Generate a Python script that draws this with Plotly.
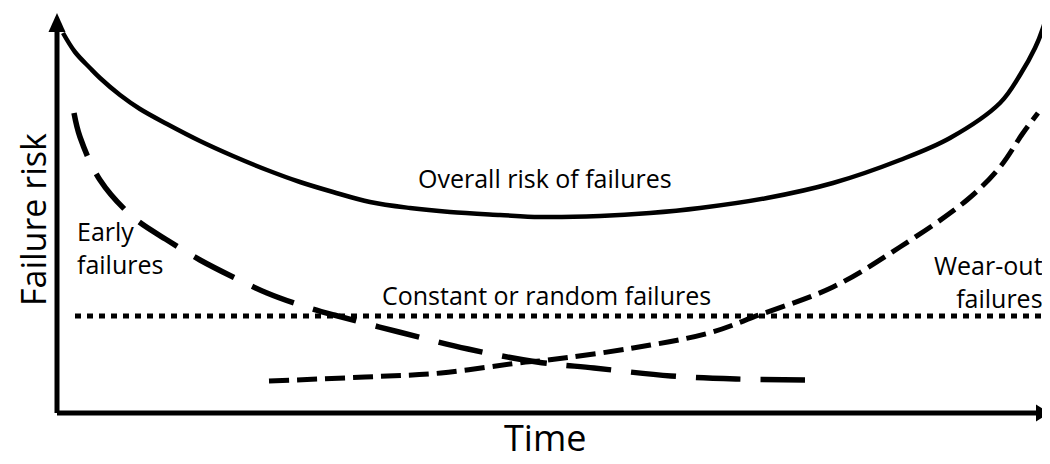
import plotly.graph_objects as go

# Time units = arbitrary, risk units = arbitrary (both)
overall_t = [6, 18, 33, 43, 63, 83, 110, 143, 176, 210, 243, 276, 313, 353, 393, 443, 483,
             543, 593, 643, 710, 776, 843, 893, 943, 963, 978, 986, 991]
overall_r = [380, 361, 345, 335, 318, 304, 289, 272, 257, 243, 231, 221, 211, 205, 201, 198, 196,
             197, 200, 205, 215, 230, 253, 275, 310, 338, 365, 385, 403]

early_t = [17, 23, 43, 76, 110, 143, 176, 210, 243, 277, 342, 411, 480, 537, 614, 679, 748]
early_r = [300, 276, 233, 196, 173, 153, 136, 120, 108, 98, 81, 64, 51, 45, 37, 34, 33]

wear_t = [212, 308, 384, 461, 491, 576, 652, 702, 776, 843, 910, 943, 966, 981]
wear_r = [32, 36, 40, 50, 53, 65, 80, 98, 126, 166, 213, 246, 280, 300]

const_t = [18, 993]
const_r = [97, 97]

labels = ["Overall risk of failures", "Constant or random failures", "Early<br>failures",
          "Wear-out<br>failures"]
axis_titles = ["Time", "Failure risk"]

T_MAX = 993.0
R_MAX = 405.0
FONT = "Open Sans"
LBL = 25

def px(t):
    return t / T_MAX

def py(r):
    return r / R_MAX

fig = go.Figure()
fig.add_trace(go.Scatter(x=overall_t, y=overall_r, mode="lines", line_shape="spline",
                         line=dict(color="black", width=4.5)))
fig.add_trace(go.Scatter(x=early_t, y=early_r, mode="lines", line_shape="spline",
                         line=dict(color="black", width=5.5, dash="45px,20px")))
fig.add_trace(go.Scatter(x=wear_t, y=wear_r, mode="lines", line_shape="spline",
                         line=dict(color="black", width=5, dash="20px,8px")))
fig.add_trace(go.Scatter(x=const_t, y=const_r, mode="lines",
                         line=dict(color="black", width=5, dash="6px,6px")))

ann = []
def txt(s, t, r, size=LBL, xanchor="center", yanchor="middle", align="center", angle=0):
    ann.append(dict(text=s, x=px(t), y=py(r), xref="paper", yref="paper", showarrow=False,
                    xanchor=xanchor, yanchor=yanchor, align=align, textangle=angle,
                    font=dict(family=FONT, size=size, color="black")))

txt(labels[0], 488, 235)
txt(labels[1], 489, 118)
txt(labels[2], 18, 166, xanchor="left", align="left")
txt(labels[3], 988, 132, xanchor="right", align="right")
txt(axis_titles[0], 488, -51, size=36, yanchor="bottom")
txt(axis_titles[1], -49, 193, size=34, xanchor="left", angle=-90)

shapes = [
    dict(type="line", x0=px(0), y0=py(0), x1=px(982), y1=py(0), xref="paper", yref="paper",
         line=dict(color="black", width=5)),
    dict(type="path",
         path=f"M {px(979)} {py(8.5)} L {px(993)} {py(0)} L {px(979)} {py(-8.5)} Z",
         xref="paper", yref="paper", fillcolor="black", line=dict(color="black", width=0)),
    dict(type="line", x0=px(0), y0=py(0), x1=px(0), y1=py(384), xref="paper", yref="paper",
         line=dict(color="black", width=5)),
    dict(type="path",
         path=f"M {px(-8.5)} {py(381)} L {px(0)} {py(400)} L {px(8.5)} {py(381)} Z",
         xref="paper", yref="paper", fillcolor="black", line=dict(color="black", width=0)),
]

fig.update_layout(
    width=1042, height=456,
    margin=dict(l=49, r=0, t=0, b=51),
    paper_bgcolor="white", plot_bgcolor="white",
    showlegend=False,
    xaxis=dict(range=[0, T_MAX], visible=False, fixedrange=True),
    yaxis=dict(range=[0, R_MAX], visible=False, fixedrange=True),
    annotations=ann, shapes=shapes,
)
fig.write_html("out.html")
